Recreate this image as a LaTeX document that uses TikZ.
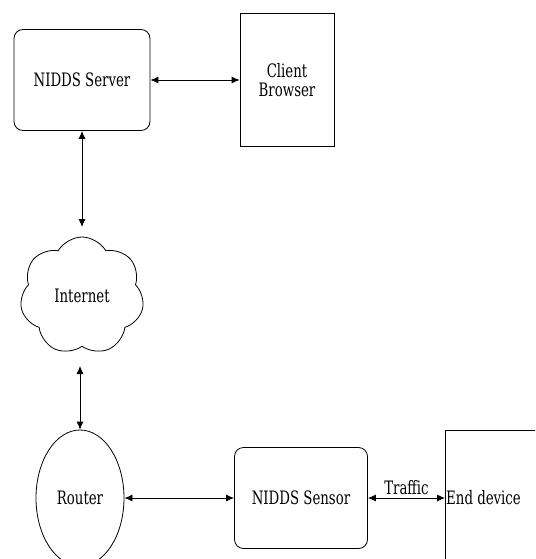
\documentclass[tikz,border=0pt]{standalone}
\usepackage{fontspec}
\setmainfont{DejaVu Serif Condensed}[FakeStretch=0.8]
\usetikzlibrary{arrows.meta,shapes.symbols,shapes.geometric}
\begin{document}
\begin{tikzpicture}[x=1pt,y=-1pt,
    lbl/.style={font=\fontsize{18.5}{19}\selectfont},
    box/.style={draw,thick,rounded corners=9pt,minimum width=136pt,minimum height=101pt,lbl},
    plainbox/.style={draw,thick,lbl},
    link/.style={thick,{Latex[length=8pt,width=7pt]}-{Latex[length=8pt,width=7pt]}}]
            \useasboundingbox (0,0) rectangle (535,559);
            \clip (0,0) rectangle (535,559);
            \node[box] (server) at (82,80) {NIDDS Server};
            \node[plainbox,minimum width=94pt,minimum height=133pt,align=center]
                (client) at (287,80) {Client\\Browser};
            \node[draw,thick,cloud,cloud puffs=7,cloud puff arc=120,aspect=1.05,
                minimum width=124pt,minimum height=118pt,lbl] (internet) at (82,296) {Internet};
            \node[draw,thick,ellipse,minimum width=88pt,minimum height=136pt,lbl]
                (router) at (80,498) {Router};
            \node[box,minimum width=133pt] (sensor) at (301,498) {NIDDS Sensor};
            \node[plainbox,anchor=north west,minimum width=120pt,minimum height=160pt]
                (enddev) at (445,430) {};
            \node[anchor=west,inner sep=1pt,lbl]
                (endlabel) at (enddev.west |- sensor.east) {End device};
            \coordinate (netin) at (82,227);
            \coordinate (netout) at (80,366);
            \draw[link] (server) -- (client);
            \draw[link] (server.south) -- (netin);
            \draw[link] (netout) -- (router.north);
            \draw[link] (router) -- (sensor);
            \draw[link] (sensor.east) -- (enddev.west |- sensor.east)
                node[midway,above,lbl] {Traffic};
            \end{tikzpicture}
\end{document}
